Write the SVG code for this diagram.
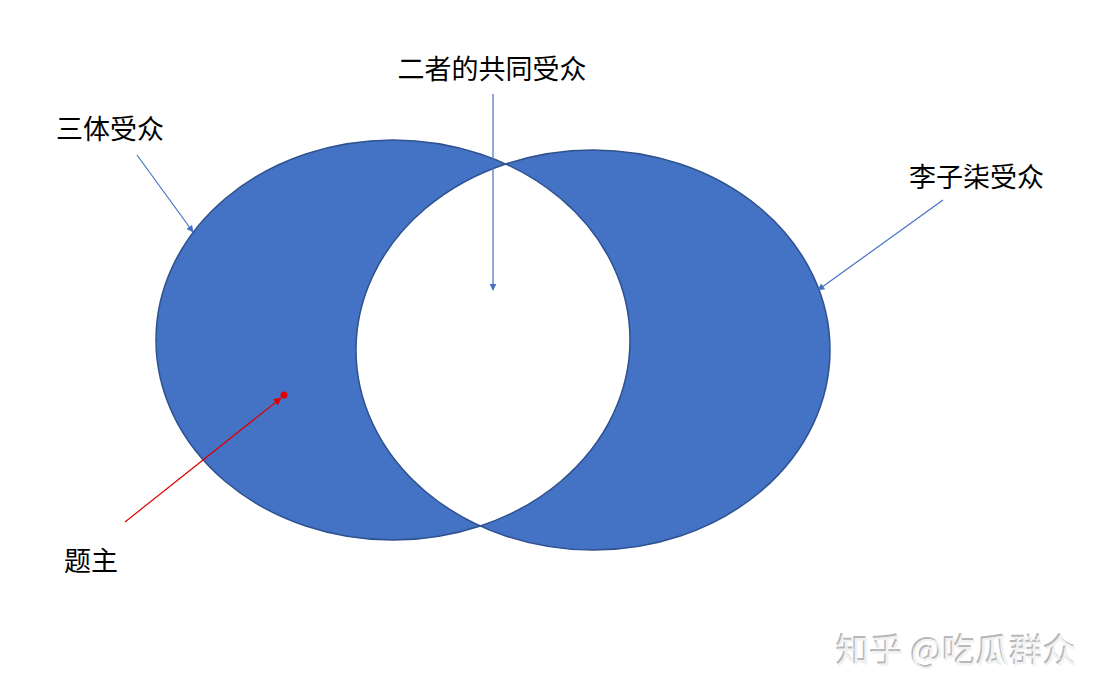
<svg xmlns="http://www.w3.org/2000/svg" width="1100" height="695" viewBox="0 0 1100 695">
<style>
.lbl{font-family:"Liberation Sans","Noto Sans CJK SC",sans-serif;font-size:27px;fill:#000}
.conn{stroke:#4472C4;stroke-width:1.2;fill:none}
.wm{font-family:"Noto Sans CJK SC",sans-serif;font-size:33.5px}
</style>
<defs>
<marker id="ab" viewBox="0 0 10 10" refX="9" refY="5" markerWidth="7" markerHeight="7" orient="auto" markerUnits="userSpaceOnUse"><path d="M0,0L10,5L0,10z" fill="#4472C4"/></marker>
<marker id="ar" viewBox="0 0 10 10" refX="9" refY="5" markerWidth="8" markerHeight="8" orient="auto" markerUnits="userSpaceOnUse"><path d="M0,0L10,5L0,10z" fill="#E00000"/></marker>
</defs>
<rect width="1100" height="695" fill="#fff"/>
<g id="venn">
<path d="M156,340A237,200 0 1 0 630,340A237,200 0 1 0 156,340Z M356,350A237,200 0 1 0 830,350A237,200 0 1 0 356,350Z" fill="#4472C4" fill-rule="evenodd" stroke="#2F528F" stroke-width="1.5"/>
</g>
<g id="connectors">
<line class="conn" x1="137" y1="155" x2="193" y2="232" marker-end="url(#ab)"/>
<line class="conn" x1="943" y1="200" x2="818" y2="290" marker-end="url(#ab)"/>
<line class="conn" x1="493" y1="94" x2="493" y2="290" marker-end="url(#ab)"/>
<line x1="125" y1="522" x2="281" y2="398" stroke="#E00000" stroke-width="1.2" marker-end="url(#ar)"/>
<circle cx="284" cy="395" r="3.5" fill="#E00000"/>
</g>
<g id="label-santi"><text class="lbl" x="56" y="139">三体受众</text></g>
<g id="label-common"><text class="lbl" x="492" y="79" text-anchor="middle">二者的共同受众</text></g>
<g id="label-liziqi"><text class="lbl" x="909" y="187">李子柒受众</text></g>
<g id="label-tizhu"><text class="lbl" x="64" y="571">题主</text></g>
<g id="watermark">
<text class="wm" x="835" y="661" fill="#b8b8b8">知乎 @吃瓜群众</text>
<text class="wm" x="836.5" y="662.5" fill="#f2f2f2">知乎 @吃瓜群众</text>
</g>
</svg>
